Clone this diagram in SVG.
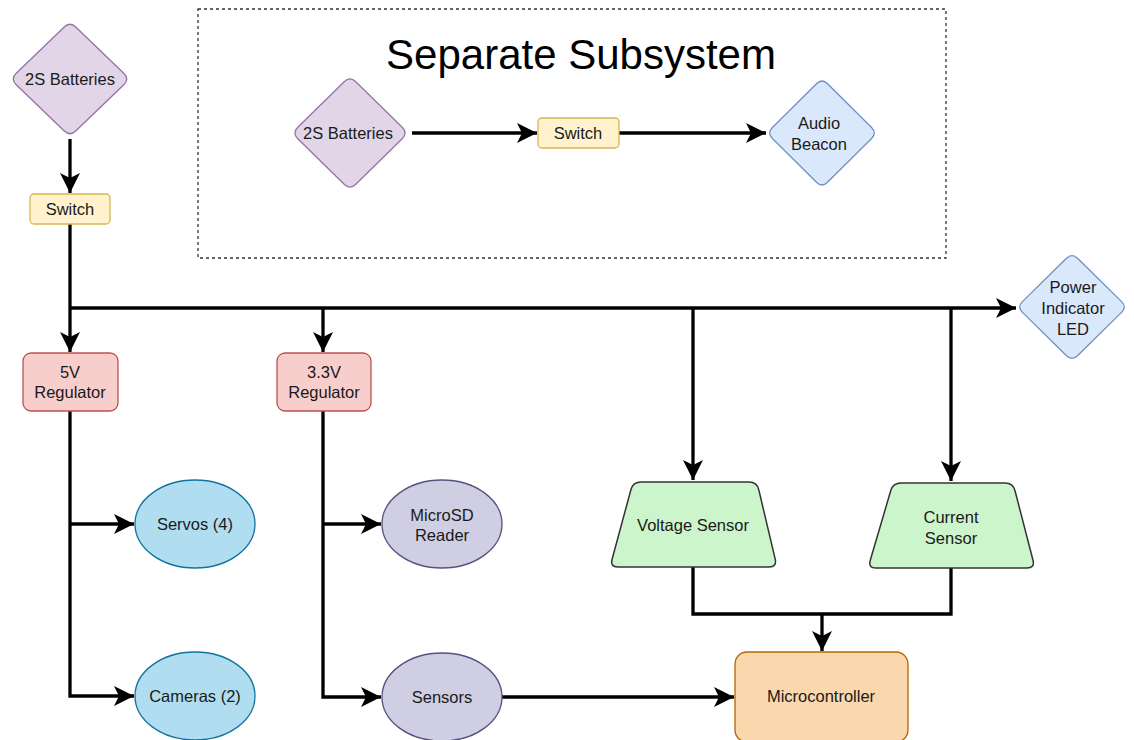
<svg xmlns="http://www.w3.org/2000/svg" width="1134" height="740" viewBox="0 0 1134 740">
<style>
text{font-family:"Liberation Sans",Arial,sans-serif;font-size:16.5px;fill:#1a1a1a;text-anchor:middle}
.title{font-size:42px;fill:#000}
.conn{fill:none;stroke:#000;stroke-width:3.3;stroke-linejoin:miter}
.arr{marker-end:url(#ah)}
.purple{fill:#e1d5e7;stroke:#9673a6;stroke-width:1.3}
.blue{fill:#dae8fc;stroke:#6c8ebf;stroke-width:1.3}
.yellow{fill:#fff2cc;stroke:#d6b656;stroke-width:1.3}
.red{fill:#f8cecc;stroke:#b85450;stroke-width:1.3}
.cyan{fill:#b1ddf0;stroke:#10739e;stroke-width:1.3}
.lav{fill:#d0cee2;stroke:#56517e;stroke-width:1.3}
.green{fill:#ccf5cc;stroke:#333;stroke-width:1.5}
.orange{fill:#fad7ac;stroke:#b46504;stroke-width:1.3}
</style>
<defs>
<marker id="ah" markerUnits="userSpaceOnUse" markerWidth="22" markerHeight="22" viewBox="0 -11 22 22" refX="20" refY="0" orient="auto">
<path d="M0,-10 L20,0 L0,10 L5,0 Z" fill="#000"/>
</marker>
<path id="dia" d="M5.8,-51.3 L52.2,-5.7 Q58,0 52.2,5.7 L5.8,51.3 Q0,57 -5.8,51.3 L-52.2,5.7 Q-58,0 -52.2,-5.7 L-5.8,-51.3 Q0,-57 5.8,-51.3 Z"/>
</defs>
<rect x="198" y="9" width="748" height="249" fill="none" stroke="#333" stroke-width="1.3" stroke-dasharray="3,3"/>
<text class="title" x="581" y="69">Separate Subsystem</text>
<g id="connectors">
<path class="conn arr" d="M70,139 L70,193"/>
<path class="conn arr" d="M70,224 L70,352"/>
<path class="conn arr" d="M70,308 L1016,308"/>
<path class="conn arr" d="M323,308 L323,352"/>
<path class="conn arr" d="M693,308 L693,480"/>
<path class="conn arr" d="M951,308 L951,481"/>
<path class="conn arr" d="M70,411 L70,696 L134,696"/>
<path class="conn arr" d="M70,524 L134,524"/>
<path class="conn arr" d="M323,411 L323,697 L381,697"/>
<path class="conn arr" d="M323,524 L381,524"/>
<path class="conn arr" d="M502,697 L734,697"/>
<path class="conn" d="M693,567 L693,614 L951,614 L951,568"/>
<path class="conn arr" d="M822,614 L822,651"/>
<path class="conn arr" d="M412,133 L537,133"/>
<path class="conn arr" d="M619,133 L766,133"/>
</g>
<g id="batteries">
<use href="#dia" class="purple" transform="translate(70,79) scale(1.03,1.01)"/>
<text x="70" y="85">2S Batteries</text>
</g>
<g id="switch">
<rect x="30" y="194" width="80" height="30" rx="4" class="yellow"/>
<text x="70" y="215">Switch</text>
</g>
<g id="sub-batteries">
<use href="#dia" class="purple" transform="translate(350,133)"/>
<text x="348" y="139">2S Batteries</text>
</g>
<g id="sub-switch">
<rect x="538" y="118" width="81" height="30" rx="4" class="yellow"/>
<text x="578" y="139">Switch</text>
</g>
<g id="audio-beacon">
<use href="#dia" class="blue" transform="translate(822,133) scale(0.95,0.96)"/>
<text x="819" y="129">Audio</text>
<text x="819" y="150">Beacon</text>
</g>
<g id="power-led">
<use href="#dia" class="blue" transform="translate(1072,307) scale(0.95,0.95)"/>
<text x="1073" y="293">Power</text>
<text x="1073" y="314">Indicator</text>
<text x="1073" y="335">LED</text>
</g>
<g id="reg5v">
<rect x="23" y="353" width="95" height="58" rx="8" class="red"/>
<text x="70" y="378">5V</text>
<text x="70" y="398">Regulator</text>
</g>
<g id="reg33v">
<rect x="277" y="353" width="94" height="58" rx="8" class="red"/>
<text x="324" y="378">3.3V</text>
<text x="324" y="398">Regulator</text>
</g>
<g id="voltage-sensor">
<path class="green" d="M641,482 L749,482 Q757,482 758.8,489.8 L775.2,559.2 Q777,567 769,567 L618,567 Q610,567 612.1,559.3 L630.9,489.7 Q633,482 641,482 Z"/>
<text x="693" y="531">Voltage Sensor</text>
</g>
<g id="current-sensor">
<path class="green" d="M901,483 L1005,483 Q1013,483 1015,490.7 L1033,560.3 Q1035,568 1027,568 L876,568 Q868,568 870.3,560.3 L890.7,490.7 Q893,483 901,483 Z"/>
<text x="951" y="523">Current</text>
<text x="951" y="544">Sensor</text>
</g>
<g id="servos">
<ellipse cx="195" cy="524" rx="60" ry="44" class="cyan"/>
<text x="195" y="530">Servos (4)</text>
</g>
<g id="cameras">
<ellipse cx="195" cy="696" rx="60" ry="44" class="cyan"/>
<text x="195" y="702">Cameras (2)</text>
</g>
<g id="microsd">
<ellipse cx="442" cy="524" rx="60" ry="44" class="lav"/>
<text x="442" y="521">MicroSD</text>
<text x="442" y="541">Reader</text>
</g>
<g id="sensors">
<ellipse cx="442" cy="697" rx="60" ry="44" class="lav"/>
<text x="442" y="703">Sensors</text>
</g>
<g id="microcontroller">
<rect x="735" y="652" width="173" height="90" rx="12" class="orange"/>
<text x="821" y="702">Microcontroller</text>
</g>
</svg>
